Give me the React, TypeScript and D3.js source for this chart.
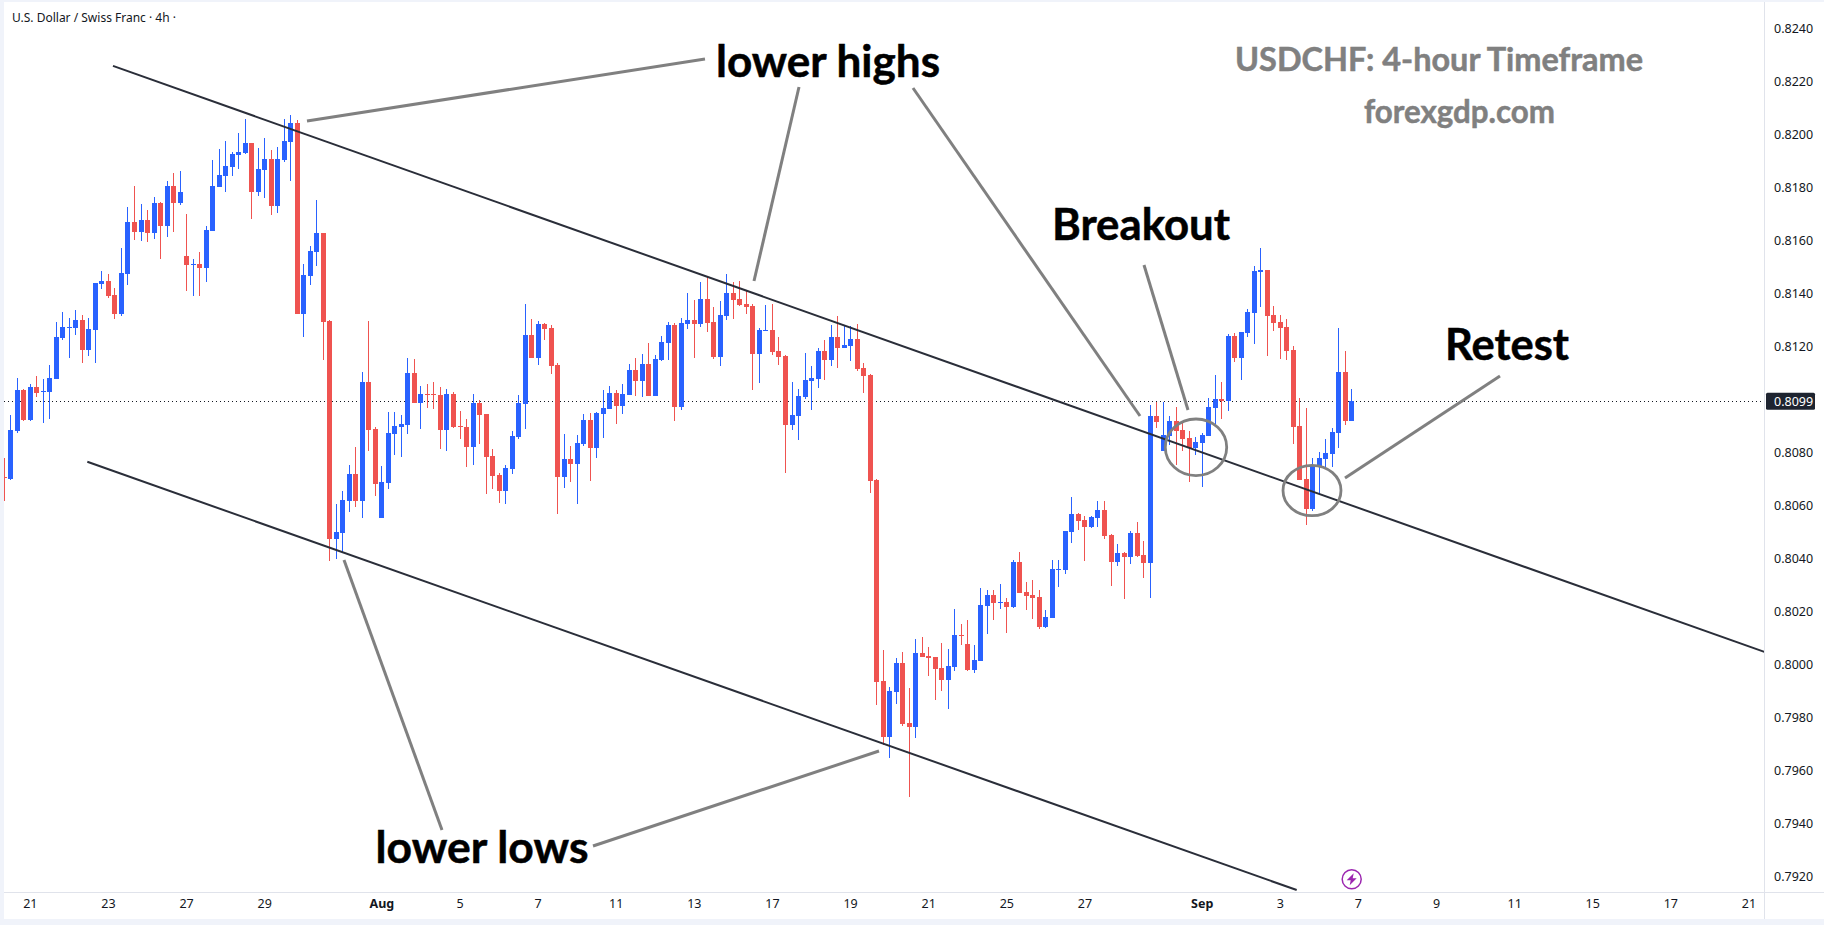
import * as d3 from "d3";
import { useEffect, useRef } from "react";

// USDCHF 4h candles, prices in points (1 point = 0.00001)
const opens = [
  80707, 80698, 80881, 81034, 80921, 81045, 81027, 81027, 81076, 81230, 81268, 81268, 81298, 81185, 81260, 81434,
  81445, 81393, 81321, 81472, 81668, 81630, 81676, 81627, 81740, 81653, 81804, 81740, 81540, 81506, 81510, 81494,
  81634, 81800, 81842, 81876, 81921, 81928, 81966, 81781, 81864, 81906, 81728, 81902, 81970, 82042, 81321, 81464,
  81555, 81627, 81294, 80472, 80494, 80615, 80717, 80615, 81064, 80886, 80551, 80683, 80868, 80894, 80902, 81098,
  80985, 81019, 81019, 81015, 80883, 81019, 80898, 80894, 80819, 80985, 80943, 80785, 80713, 80652, 80735, 80856,
  80981, 81241, 81154, 81283, 81268, 81128, 80705, 80773, 80754, 80830, 80920, 80815, 80943, 80962, 81022, 80973,
  81015, 81109, 81068, 81132, 81011, 81147, 81211, 81279, 80969, 81283, 81298, 81283, 81377, 81290, 81158, 81313,
  81400, 81377, 81358, 81350, 81170, 81256, 81260, 81181, 81162, 80901, 80935, 81007, 81067, 81075, 81181, 81147,
  81233, 81193, 81199, 81226, 81117, 81090, 80694, 79935, 79723, 79893, 80004, 79777, 79761, 80041, 80029, 80025,
  79985, 79939, 79988, 80109, 80075, 79977, 80010, 80218, 80260, 80229, 80233, 80215, 80385, 80272, 80260, 80253,
  80140, 80174, 80355, 80355, 80498, 80566, 80544, 80517, 80551, 80581, 80487, 80385, 80419, 80404, 80494, 80411,
  80381, 80936, 80804, 80861, 80917, 80883, 80853, 80815, 80834, 80861, 80966, 81000, 80993, 81238, 81155, 81249,
  81325, 81479, 81487, 81317, 81291, 81272, 81185, 80898, 80698, 80585, 80747, 80774, 80793, 80872, 81102, 80917,
];
const highs = [
  80779, 80940, 81079, 81038, 81057, 81087, 81076, 81128, 81291, 81328, 81306, 81336, 81317, 81306, 81438, 81483,
  81472, 81419, 81570, 81725, 81804, 81736, 81713, 81762, 81744, 81823, 81853, 81861, 81698, 81528, 81555, 81653,
  81902, 81944, 81974, 81932, 82004, 82057, 81966, 81947, 81985, 81940, 81951, 82057, 82072, 82053, 81510, 81578,
  81751, 81627, 81298, 80604, 80653, 80751, 80819, 81102, 81294, 80894, 80747, 80951, 80951, 80939, 81154, 81151,
  81049, 81056, 81064, 81045, 81037, 81026, 80954, 80924, 81019, 80996, 80943, 80811, 80720, 80751, 80879, 81015,
  81358, 81302, 81294, 81286, 81279, 81136, 80868, 80822, 80864, 80943, 80947, 80951, 81034, 81049, 81034, 81056,
  81132, 81154, 81170, 81211, 81166, 81237, 81290, 81286, 81306, 81400, 81373, 81441, 81462, 81346, 81369, 81472,
  81441, 81445, 81411, 81358, 81268, 81354, 81358, 81233, 81166, 81063, 81038, 81174, 81124, 81193, 81222, 81279,
  81313, 81279, 81275, 81283, 81136, 81094, 80698, 80052, 79912, 80023, 80044, 79909, 80094, 80101, 80063, 80025,
  80079, 80056, 80207, 80151, 80165, 80071, 80287, 80279, 80279, 80302, 80249, 80393, 80423, 80310, 80317, 80279,
  80204, 80393, 80393, 80502, 80630, 80570, 80559, 80559, 80615, 80615, 80491, 80453, 80423, 80502, 80536, 80464,
  80978, 80989, 80989, 80936, 80970, 80910, 80879, 80857, 80872, 81004, 81091, 81064, 81246, 81249, 81253, 81340,
  81502, 81570, 81487, 81351, 81317, 81302, 81200, 81004, 80966, 80778, 80800, 80849, 80891, 81268, 81181, 81038,
];
const lows = [
  80616, 80694, 80873, 80917, 80917, 81008, 80909, 80925, 81076, 81223, 81155, 81242, 81136, 81162, 81136, 81415,
  81381, 81302, 81313, 81430, 81600, 81596, 81593, 81604, 81528, 81611, 81630, 81732, 81408, 81389, 81389, 81442,
  81634, 81800, 81781, 81842, 81868, 81925, 81679, 81766, 81759, 81695, 81702, 81895, 81823, 81321, 81234, 81430,
  81502, 81147, 80389, 80396, 80423, 80574, 80592, 80551, 80803, 80634, 80551, 80660, 80788, 80781, 80868, 80985,
  80886, 80966, 80962, 80811, 80803, 80890, 80849, 80743, 80751, 80830, 80641, 80660, 80607, 80603, 80717, 80849,
  80886, 81154, 81128, 81222, 81094, 80566, 80664, 80686, 80603, 80822, 80690, 80777, 80852, 80962, 80905, 80943,
  81015, 81011, 81007, 81011, 81011, 81143, 81147, 80917, 80959, 81264, 81155, 81271, 81252, 81151, 81124, 81298,
  81302, 81350, 81321, 81034, 81061, 81256, 81166, 81128, 80721, 80883, 80845, 81000, 80958, 81042, 81071, 81124,
  81117, 81191, 81143, 81105, 81023, 80645, 79845, 79695, 79646, 79849, 79765, 79497, 79721, 80025, 79954, 79864,
  79897, 79830, 79973, 80071, 79973, 79966, 80010, 80113, 80165, 80207, 80117, 80211, 80268, 80204, 80170, 80132,
  80136, 80174, 80291, 80340, 80457, 80506, 80389, 80513, 80517, 80472, 80294, 80370, 80245, 80377, 80404, 80325,
  80249, 80891, 80804, 80827, 80751, 80804, 80687, 80789, 80668, 80861, 80906, 80925, 80955, 81140, 81072, 81234,
  81208, 81347, 81162, 81257, 81151, 81147, 80830, 80694, 80525, 80578, 80638, 80744, 80744, 80815, 80902, 80917,
];
const closes = [
  80702, 80883, 81034, 80921, 81045, 81023, 81030, 81079, 81234, 81272, 81272, 81298, 81185, 81264, 81438, 81445,
  81389, 81321, 81476, 81668, 81630, 81676, 81627, 81740, 81653, 81804, 81740, 81781, 81506, 81510, 81494, 81638,
  81804, 81845, 81879, 81925, 81932, 81966, 81781, 81868, 81906, 81728, 81906, 81974, 82042, 81321, 81468, 81559,
  81627, 81291, 80472, 80498, 80619, 80717, 80615, 81064, 80883, 80679, 80686, 80871, 80898, 80905, 81098, 80985,
  81019, 81015, 81015, 80883, 81019, 80894, 80894, 80819, 80985, 80939, 80781, 80709, 80652, 80739, 80860, 80985,
  81241, 81154, 81283, 81264, 81124, 80705, 80773, 80754, 80834, 80920, 80815, 80947, 80966, 81022, 80973, 81019,
  81109, 81068, 81132, 81011, 81151, 81215, 81279, 80969, 81287, 81298, 81283, 81377, 81287, 81158, 81317, 81400,
  81373, 81354, 81346, 81170, 81260, 81260, 81176, 81158, 80901, 80939, 81011, 81071, 81079, 81181, 81147, 81233,
  81193, 81203, 81226, 81113, 81086, 80690, 79931, 79723, 79897, 80004, 79773, 79761, 80041, 80025, 80023, 79981,
  79939, 79992, 80109, 80105, 79977, 80014, 80222, 80260, 80230, 80233, 80214, 80385, 80268, 80257, 80249, 80140,
  80177, 80359, 80359, 80502, 80566, 80540, 80517, 80555, 80581, 80483, 80385, 80419, 80404, 80494, 80408, 80381,
  80936, 80913, 80864, 80917, 80879, 80849, 80815, 80838, 80864, 80970, 81000, 80993, 81238, 81155, 81253, 81329,
  81483, 81487, 81313, 81287, 81268, 81181, 80895, 80694, 80585, 80751, 80778, 80796, 80876, 81102, 80917, 80993,
];

const priceTicks = d3.range(7920, 8241, 20).map((d) => d / 10000);
const lastPrice = 0.8099;

// bar index of each date label on the time axis
const timeTickBars = [4, 16, 28, 40, 58, 70, 82, 94, 106, 118, 130, 142, 154, 166, 184, 196, 208, 220, 232, 244, 256, 268];
const timeTickLabels = ["21", "23", "27", "29", "Aug", "5", "7", "11", "13", "17", "19", "21", "25", "27", "Sep", "3", "7", "9", "11", "15", "17", "21"];
const boldTimeLabels = ["Aug", "Sep"];

// channel lines: [bar, price in points] at both ends
const upperChannel = [[16.77, 82257], [270.5, 80045]];
const lowerChannel = [[12.83, 80763], [198.6, 79147]];

// hand drawn callouts on top of the chart (page pixels)
const callouts = [
  [307, 121, 705, 59],
  [799, 87, 754, 281],
  [913, 88, 1140, 416],
  [1144, 265, 1188, 410],
  [1500, 376, 1345, 478],
  [344, 560, 442, 830],
  [593, 846, 879, 751],
];
const circles = [
  [1196, 447.3, 30.7, 28.3],
  [1312, 490.5, 29, 25.2],
];
const captions = [
  { text: "lower highs", x: 828, y: 77, size: 44, color: "#000", width: 224 },
  { text: "Breakout", x: 1141, y: 240, size: 44, color: "#000", width: 178 },
  { text: "Retest", x: 1507, y: 360, size: 44, color: "#000", width: 124 },
  { text: "lower lows", x: 482, y: 863, size: 44, color: "#000", width: 213 },
  { text: "USDCHF: 4-hour Timeframe", x: 1439, y: 71, size: 32, color: "#808080", width: 408 },
  { text: "forexgdp.com", x: 1459.5, y: 123, size: 32, color: "#808080", width: 191 },
];

const W = 1824;
const H = 925;
const UP = "#2962ff";
const DOWN = "#ef5350";
const BORDER = "#e0e3eb";
const INK = "#131722";
const UI_FONT = "'Noto Sans', sans-serif";
const plot = { left: 4, top: 2, right: 1764, bottom: 892 };

export default function App() {
  const svgRef = useRef<SVGSVGElement>(null);

  useEffect(() => {
    if (!svgRef.current) return;
    const svg = d3.select(svgRef.current);
    svg.selectAll("*").remove();

    const x = d3.scaleLinear().domain([0, 268]).range([3.8, 1748.5]);
    const y = d3.scaleLinear().domain([0.812, 0.8]).range([346, 664]);
    const yp = (v: number) => y(v / 100000);

    svg.append("rect").attr("width", W).attr("height", H).attr("fill", "#f0f3fa");
    svg
      .append("rect")
      .attr("x", plot.left)
      .attr("y", plot.top)
      .attr("width", W - plot.left)
      .attr("height", 919 - plot.top)
      .attr("fill", "#fff");

    svg
      .append("defs")
      .append("clipPath")
      .attr("id", "plot-clip")
      .append("rect")
      .attr("x", plot.left)
      .attr("y", plot.top)
      .attr("width", plot.right - plot.left)
      .attr("height", plot.bottom - plot.top);

    const g = svg.append("g").attr("clip-path", "url(#plot-clip)");

    // Last price line
    g.append("line")
      .attr("x1", plot.left)
      .attr("x2", plot.right)
      .attr("y1", Math.round(y(lastPrice)) - 0.5)
      .attr("y2", Math.round(y(lastPrice)) - 0.5)
      .attr("stroke", INK)
      .attr("stroke-dasharray", "1 3");

    // Candles
    const candles = g
      .selectAll("g.candle")
      .data(opens.map((_, i) => i))
      .enter()
      .append("g")
      .attr("class", "candle")
      .attr("shape-rendering", "crispEdges")
      .attr("fill", (i) => (closes[i] >= opens[i] ? UP : DOWN));
    candles
      .append("rect")
      .attr("x", (i) => Math.round(x(i)))
      .attr("width", 1)
      .attr("y", (i) => Math.round(yp(highs[i])))
      .attr("height", (i) => Math.max(1, Math.round(yp(lows[i])) - Math.round(yp(highs[i]))));
    candles
      .append("rect")
      .attr("x", (i) => Math.round(x(i)) - 2)
      .attr("width", 5)
      .attr("y", (i) => Math.round(yp(Math.max(opens[i], closes[i]))))
      .attr("height", (i) =>
        Math.max(1, Math.round(yp(Math.min(opens[i], closes[i]))) - Math.round(yp(Math.max(opens[i], closes[i])))),
      );

    // Channel
    const channelLine = d3
      .line<number[]>()
      .x((d) => x(d[0]))
      .y((d) => yp(d[1]));
    [upperChannel, lowerChannel].forEach((pts) => {
      g.append("path").attr("d", channelLine(pts)).attr("fill", "none").attr("stroke", "#2a2e39").attr("stroke-width", 2);
    });

    // Price axis
    const yAxis = d3
      .axisRight(y)
      .tickValues(priceTicks)
      .tickSize(0)
      .tickPadding(0)
      .tickFormat((d) => (d as number).toFixed(4));
    const yG = svg.append("g").attr("transform", "translate(1774,0)").call(yAxis);
    yG.select(".domain").remove();
    yG.selectAll("text").attr("font-family", UI_FONT).attr("font-size", 12.5).attr("fill", INK);

    // Time axis
    const xAxis = d3
      .axisBottom(x)
      .tickValues(timeTickBars)
      .tickSize(0)
      .tickPadding(0)
      .tickFormat((_, i) => timeTickLabels[i]);
    const xG = svg.append("g").attr("transform", "translate(0,899)").call(xAxis);
    xG.select(".domain").remove();
    xG.selectAll("text")
      .attr("font-family", UI_FONT)
      .attr("font-size", 12.5)
      .attr("font-weight", (_, i) => (boldTimeLabels.includes(timeTickLabels[i]) ? 700 : 400))
      .attr("fill", INK);

    svg
      .append("path")
      .attr("d", `M${plot.right + 0.5},${plot.top}V919M${plot.left},${plot.bottom + 0.5}H${W}`)
      .attr("fill", "none")
      .attr("stroke", BORDER)
      .attr("shape-rendering", "crispEdges");

    // Last price tag
    svg
      .append("rect")
      .attr("x", 1766)
      .attr("y", y(lastPrice) - 9)
      .attr("width", 49)
      .attr("height", 17)
      .attr("rx", 1.5)
      .attr("fill", "#1e2430");
    svg
      .append("text")
      .attr("x", 1774)
      .attr("y", y(lastPrice) + 4)
      .attr("font-family", UI_FONT)
      .attr("font-size", 12.5)
      .attr("fill", "#fff")
      .text(lastPrice.toFixed(4));

    // Legend
    svg
      .append("text")
      .attr("x", 12)
      .attr("y", 22)
      .attr("font-family", UI_FONT)
      .attr("font-size", 12)
      .attr("fill", INK)
      .text("U.S. Dollar / Swiss Franc · 4h ·");

    // Lightning badge
    const badge = svg.append("g").attr("transform", "translate(1351.7,879.3)");
    badge.append("circle").attr("r", 9.5).attr("fill", "#fff").attr("stroke", "#9c27b0").attr("stroke-width", 1.5);
    badge.append("path").attr("d", "M2,-6L-5,1H-1L-2,6L5,-1H1Z").attr("fill", "#9c27b0");

    // Callouts
    svg
      .selectAll("line.callout")
      .data(callouts)
      .enter()
      .append("line")
      .attr("class", "callout")
      .attr("x1", (d) => d[0])
      .attr("y1", (d) => d[1])
      .attr("x2", (d) => d[2])
      .attr("y2", (d) => d[3])
      .attr("stroke", "#808080")
      .attr("stroke-width", 3);
    svg
      .selectAll("ellipse")
      .data(circles)
      .enter()
      .append("ellipse")
      .attr("cx", (d) => d[0])
      .attr("cy", (d) => d[1])
      .attr("rx", (d) => d[2])
      .attr("ry", (d) => d[3])
      .attr("fill", "none")
      .attr("stroke", "#808080")
      .attr("stroke-width", 2.8);
    svg
      .selectAll("text.caption")
      .data(captions)
      .enter()
      .append("text")
      .attr("class", "caption")
      .attr("x", (d) => d.x)
      .attr("y", (d) => d.y)
      .attr("text-anchor", "middle")
      .attr("font-family", "Lato, sans-serif")
      .attr("font-weight", 700)
      .attr("font-size", (d) => d.size)
      .attr("textLength", (d) => d.width)
      .attr("lengthAdjust", "spacingAndGlyphs")
      .attr("fill", (d) => d.color)
      .attr("stroke", (d) => d.color)
      .attr("stroke-width", 0.5)
      .text((d) => d.text);
  }, []);

  return (
    <div style={{ position: "absolute", left: 0, top: 0 }}>
      <svg ref={svgRef} width={W} height={H} style={{ display: "block" }} />
    </div>
  );
}
